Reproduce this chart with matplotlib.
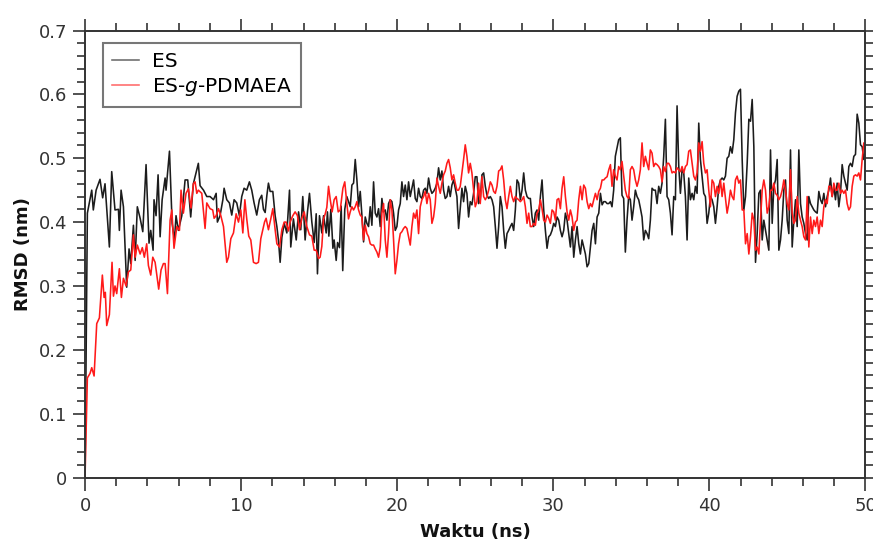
import numpy as np
import matplotlib
matplotlib.use("Agg")
import matplotlib.pyplot as plt
from matplotlib.ticker import MultipleLocator

# ---- data (time in ns, RMSD in nm) ----
# ES, 0 - 8 ns
es_t1 = [0, 0.15, 0.43, 0.53, 0.71, 0.96, 1.13, 1.28, 1.56, 1.71, 1.92, 2.14, 2.20, 2.31, 2.46,
         2.67, 2.82, 2.93, 3.10, 3.21, 3.35, 3.53, 3.70, 3.91, 4.10, 4.21, 4.36, 4.42, 4.55, 4.68,
         4.81, 4.94, 5.13, 5.19, 5.41, 5.58, 5.73, 5.83, 5.98, 6.20, 6.41, 6.58, 6.77, 6.94, 7.26,
         7.37, 7.59, 7.80]
es_v1 = [0, 0.414, 0.45, 0.419, 0.45, 0.467, 0.438, 0.46, 0.361, 0.479, 0.419, 0.42, 0.387, 0.45,
         0.424, 0.298, 0.358, 0.335, 0.395, 0.34, 0.424, 0.406, 0.385, 0.49, 0.367, 0.387, 0.356,
         0.435, 0.41, 0.474, 0.377, 0.435, 0.469, 0.45, 0.511, 0.398, 0.372, 0.41, 0.387, 0.41,
         0.466, 0.466, 0.408, 0.46, 0.492, 0.457, 0.45, 0.44]
# ES, 8 - 17 ns
es_t2 = [8.01, 8.23, 8.40, 8.48, 8.65, 8.83, 8.91, 9.08, 9.25, 9.40, 9.55, 9.72, 9.89, 10.04,
         10.19, 10.36, 10.53, 10.68, 10.83, 11.00, 11.17, 11.32, 11.43, 11.54, 11.65, 11.75,
         11.86, 12.03, 12.18, 12.29, 12.39, 12.50, 12.61, 12.76, 12.93, 13.10, 13.18, 13.35,
         13.53, 13.68, 13.82, 13.95, 14.10, 14.25, 14.38, 14.53, 14.68, 14.81, 14.89, 15.02,
         15.17, 15.28, 15.45, 15.53, 15.62, 15.75, 15.88, 15.96, 16.09, 16.18, 16.30, 16.41,
         16.51, 16.64, 16.77]
es_v2 = [0.44, 0.435, 0.445, 0.40, 0.41, 0.435, 0.453, 0.435, 0.43, 0.411, 0.435, 0.43, 0.41,
         0.44, 0.453, 0.45, 0.463, 0.45, 0.43, 0.411, 0.435, 0.442, 0.42, 0.415, 0.442, 0.461,
         0.448, 0.448, 0.41, 0.393, 0.372, 0.337, 0.376, 0.398, 0.383, 0.45, 0.361, 0.405, 0.372,
         0.416, 0.388, 0.44, 0.372, 0.416, 0.445, 0.40, 0.368, 0.413, 0.319, 0.41, 0.383, 0.41,
         0.383, 0.416, 0.378, 0.42, 0.359, 0.372, 0.34, 0.368, 0.36, 0.425, 0.324, 0.42, 0.44]
# ES, 17 - 25.3 ns (evenly sampled)
es_v3 = [0.424, 0.458, 0.461, 0.498, 0.466, 0.424, 0.448, 0.411, 0.369, 0.408, 0.398, 0.393,
         0.424, 0.395, 0.463, 0.414, 0.408, 0.421, 0.393, 0.437, 0.416, 0.419, 0.403, 0.429,
         0.435, 0.432, 0.414, 0.387, 0.393, 0.419, 0.429, 0.463, 0.44, 0.458, 0.435, 0.463, 0.44,
         0.453, 0.466, 0.437, 0.432, 0.453, 0.44, 0.437, 0.45, 0.453, 0.445, 0.469, 0.453, 0.445,
         0.448, 0.453, 0.461, 0.485, 0.466, 0.48, 0.45, 0.437, 0.44, 0.456, 0.44, 0.458, 0.466,
         0.453, 0.44, 0.39, 0.421, 0.453, 0.432, 0.456, 0.445, 0.408, 0.432, 0.427, 0.445, 0.471,
         0.471, 0.429, 0.435]
# ES, 25.4 - 33.7 ns
es_v4 = [0.474, 0.477, 0.456, 0.442, 0.437, 0.44, 0.435, 0.424, 0.393, 0.359, 0.393, 0.44,
         0.424, 0.387, 0.359, 0.382, 0.387, 0.393, 0.398, 0.387, 0.419, 0.466, 0.461, 0.435, 0.45,
         0.477, 0.45, 0.44, 0.437, 0.437, 0.408, 0.393, 0.414, 0.419, 0.403, 0.44, 0.466, 0.419,
         0.387, 0.359, 0.377, 0.38, 0.387, 0.398, 0.393, 0.408, 0.403, 0.387, 0.377, 0.387, 0.414,
         0.403, 0.382, 0.361, 0.393, 0.345, 0.372, 0.393, 0.366, 0.35, 0.372, 0.361, 0.35, 0.33,
         0.335, 0.361, 0.387, 0.398, 0.366, 0.408, 0.414, 0.445, 0.427, 0.432, 0.432, 0.429,
         0.429, 0.432]
# ES, 33.8 - 42 ns
es_v5 = [0.424, 0.45, 0.503, 0.516, 0.529, 0.532, 0.442, 0.437, 0.353, 0.403, 0.44, 0.435,
         0.403, 0.424, 0.45, 0.44, 0.435, 0.422, 0.408, 0.372, 0.387, 0.382, 0.374, 0.403, 0.453,
         0.45, 0.45, 0.429, 0.456, 0.445, 0.461, 0.503, 0.561, 0.44, 0.435, 0.414, 0.38, 0.44,
         0.435, 0.582, 0.488, 0.445, 0.482, 0.477, 0.44, 0.372, 0.469, 0.435, 0.445, 0.435, 0.456,
         0.445, 0.555, 0.498, 0.472, 0.445, 0.44, 0.398, 0.414, 0.44, 0.435, 0.424, 0.398, 0.424,
         0.456, 0.466, 0.469, 0.466, 0.472, 0.5, 0.503, 0.518, 0.508, 0.529, 0.571, 0.597, 0.605,
         0.608]
# ES, 42.1 - 50 ns
es_v6 = [0.498, 0.419, 0.44, 0.492, 0.561, 0.558, 0.592, 0.518, 0.337, 0.382, 0.445, 0.45,
         0.372, 0.403, 0.387, 0.372, 0.356, 0.513, 0.398, 0.456, 0.466, 0.498, 0.356, 0.372,
         0.403, 0.45, 0.466, 0.403, 0.382, 0.513, 0.361, 0.403, 0.435, 0.393, 0.513, 0.429, 0.408,
         0.398, 0.382, 0.372, 0.44, 0.429, 0.424, 0.419, 0.416, 0.414, 0.448, 0.435, 0.429, 0.445,
         0.424, 0.44, 0.45, 0.469, 0.44, 0.456, 0.435, 0.461, 0.424, 0.445, 0.49, 0.472, 0.461,
         0.45, 0.487, 0.492, 0.487, 0.503, 0.506, 0.569, 0.555, 0.521, 0.518, 0.498, 0.513]

# ES-g-PDMAEA, 0 - 8 ns
gp_t1 = [0, 0.15, 0.32, 0.43, 0.58, 0.75, 0.92, 1.11, 1.22, 1.30, 1.39, 1.56, 1.73, 1.82, 1.92,
         2.03, 2.20, 2.33, 2.46, 2.63, 2.78, 2.93, 3.10, 3.21, 3.35, 3.53, 3.67, 3.80, 3.95, 4.06,
         4.21, 4.34, 4.49, 4.72, 4.87, 5.02, 5.13, 5.28, 5.45, 5.56, 5.70, 5.88, 6.05, 6.15, 6.30,
         6.47, 6.62, 6.79, 6.94, 7.05, 7.16, 7.26, 7.48, 7.69, 7.80]
gp_v1 = [0, 0.156, 0.163, 0.172, 0.159, 0.241, 0.25, 0.317, 0.282, 0.29, 0.238, 0.255, 0.337,
         0.284, 0.30, 0.288, 0.327, 0.282, 0.312, 0.30, 0.322, 0.325, 0.38, 0.345, 0.364, 0.35,
         0.36, 0.345, 0.366, 0.332, 0.317, 0.345, 0.337, 0.295, 0.325, 0.335, 0.335, 0.288, 0.403,
         0.419, 0.359, 0.393, 0.387, 0.45, 0.414, 0.445, 0.452, 0.422, 0.46, 0.463, 0.445, 0.45,
         0.445, 0.39, 0.43]
# ES-g-PDMAEA, 8 - 17 ns
gp_t2 = [8.01, 8.18, 8.27, 8.40, 8.55, 8.70, 8.87, 9.08, 9.19, 9.34, 9.51, 9.68, 9.83, 9.98,
         10.11, 10.24, 10.36, 10.49, 10.62, 10.79, 10.96, 11.11, 11.26, 11.39, 11.50, 11.60,
         11.75, 11.90, 12.03, 12.18, 12.29, 12.46, 12.61, 12.76, 12.88, 13.03, 13.14, 13.31,
         13.46, 13.61, 13.74, 13.89, 14.04, 14.21, 14.38, 14.53, 14.68, 14.81, 14.96, 15.06,
         15.17, 15.28, 15.39, 15.49, 15.60, 15.71, 15.83, 15.96, 16.09, 16.22, 16.35, 16.52,
         16.64, 16.77, 16.88]
gp_v2 = [0.421, 0.419, 0.406, 0.41, 0.421, 0.41, 0.393, 0.337, 0.345, 0.374, 0.383, 0.413, 0.40,
         0.419, 0.383, 0.435, 0.405, 0.378, 0.372, 0.337, 0.335, 0.337, 0.374, 0.388, 0.40,
         0.406, 0.388, 0.405, 0.421, 0.388, 0.366, 0.361, 0.388, 0.40, 0.40, 0.386, 0.40, 0.41,
         0.416, 0.41, 0.388, 0.406, 0.416, 0.393, 0.38, 0.378, 0.356, 0.356, 0.343, 0.345, 0.362,
         0.405, 0.413, 0.423, 0.456, 0.435, 0.416, 0.435, 0.44, 0.416, 0.419, 0.453, 0.463, 0.43,
         0.405]
# ES-g-PDMAEA, 17 - 25.3 ns
gp_v3 = [0.416, 0.424, 0.419, 0.424, 0.432, 0.419, 0.411, 0.408, 0.372, 0.395, 0.382, 0.377,
         0.366, 0.364, 0.364, 0.358, 0.353, 0.345, 0.361, 0.414, 0.429, 0.372, 0.345, 0.382,
         0.435, 0.419, 0.372, 0.319, 0.34, 0.366, 0.382, 0.385, 0.39, 0.393, 0.39, 0.377, 0.364,
         0.393, 0.414, 0.406, 0.419, 0.382, 0.424, 0.435, 0.44, 0.448, 0.429, 0.445, 0.435, 0.398,
         0.408, 0.429, 0.469, 0.456, 0.445, 0.461, 0.474, 0.48, 0.492, 0.498, 0.485, 0.466, 0.474,
         0.461, 0.45, 0.45, 0.456, 0.477, 0.498, 0.521, 0.503, 0.477, 0.492, 0.477, 0.45, 0.424,
         0.432, 0.461, 0.429]
# ES-g-PDMAEA, 25.4 - 33.7 ns
gp_v4 = [0.471, 0.44, 0.435, 0.44, 0.45, 0.463, 0.458, 0.448, 0.445, 0.456, 0.48, 0.482, 0.488,
         0.466, 0.435, 0.421, 0.44, 0.456, 0.44, 0.432, 0.44, 0.437, 0.435, 0.432, 0.435, 0.44,
         0.424, 0.398, 0.414, 0.393, 0.393, 0.398, 0.395, 0.414, 0.419, 0.435, 0.421, 0.403, 0.40,
         0.411, 0.406, 0.398, 0.419, 0.416, 0.403, 0.435, 0.437, 0.421, 0.453, 0.471, 0.44, 0.416,
         0.403, 0.419, 0.408, 0.387, 0.40, 0.403, 0.435, 0.456, 0.435, 0.458, 0.453, 0.432, 0.421,
         0.429, 0.424, 0.435, 0.445, 0.435, 0.448, 0.453, 0.466, 0.466, 0.469, 0.471, 0.482, 0.49]
# ES-g-PDMAEA, 33.8 - 42 ns
gp_v5 = [0.456, 0.482, 0.472, 0.466, 0.487, 0.482, 0.495, 0.472, 0.45, 0.44, 0.437, 0.482,
         0.487, 0.482, 0.466, 0.456, 0.466, 0.482, 0.524, 0.487, 0.503, 0.492, 0.482, 0.513,
         0.508, 0.487, 0.492, 0.49, 0.487, 0.482, 0.463, 0.487, 0.479, 0.492, 0.492, 0.487, 0.477,
         0.479, 0.477, 0.485, 0.482, 0.479, 0.487, 0.477, 0.487, 0.49, 0.511, 0.513, 0.492, 0.472,
         0.466, 0.477, 0.524, 0.511, 0.526, 0.492, 0.477, 0.482, 0.45, 0.424, 0.466, 0.461, 0.44,
         0.456, 0.445, 0.466, 0.44, 0.461, 0.437, 0.414, 0.429, 0.45, 0.44, 0.435, 0.466, 0.472,
         0.461, 0.466]
# ES-g-PDMAEA, 42.1 - 50 ns
gp_v6 = [0.419, 0.419, 0.366, 0.382, 0.35, 0.377, 0.414, 0.403, 0.356, 0.361, 0.35, 0.403, 0.45,
         0.466, 0.45, 0.414, 0.424, 0.45, 0.45, 0.461, 0.445, 0.442, 0.435, 0.44, 0.45, 0.466,
         0.45, 0.429, 0.419, 0.482, 0.414, 0.398, 0.403, 0.44, 0.414, 0.403, 0.393, 0.377, 0.372,
         0.44, 0.361, 0.408, 0.382, 0.403, 0.393, 0.408, 0.382, 0.403, 0.393, 0.424, 0.435, 0.429,
         0.456, 0.456, 0.44, 0.461, 0.45, 0.45, 0.461, 0.445, 0.45, 0.445, 0.45, 0.429, 0.419,
         0.424, 0.456, 0.472, 0.474, 0.472, 0.477, 0.466, 0.498, 0.524, 0.508]

# time spans of the evenly sampled stretches
spans = [(16.99, 25.32), (25.43, 33.66), (33.76, 41.99), (42.10, 50.0)]


def build(t1, v1, t2, v2, rest):
    t = list(t1) + list(t2)
    v = list(v1) + list(v2)
    for (a, b), vals in zip(spans, rest):
        t += list(np.linspace(a, b, len(vals)))
        v += list(vals)
    return np.array(t), np.array(v)


es_t, es_v = build(es_t1, es_v1, es_t2, es_v2, [es_v3, es_v4, es_v5, es_v6])
gp_t, gp_v = build(gp_t1, gp_v1, gp_t2, gp_v2, [gp_v3, gp_v4, gp_v5, gp_v6])

plt.rcParams['font.family'] = ['DejaVu Sans']
plt.rcParams['mathtext.fontset'] = 'dejavusans'

fig = plt.figure(figsize=(8.73, 5.40), dpi=100)
ax = fig.add_axes([0.0974, 0.1157, 0.8940, 0.8278])

ax.plot(es_t, es_v, color='#1c1c1c', lw=1.15, label='ES')
ax.plot(gp_t, gp_v, color='#ff1a1a', lw=1.15, label='ES-$g$-PDMAEA')

ax.set_xlim(0, 50)
ax.set_ylim(0, 0.7)
ax.xaxis.set_major_locator(MultipleLocator(10))
ax.xaxis.set_minor_locator(MultipleLocator(2))
ax.yaxis.set_major_locator(MultipleLocator(0.1))
ax.yaxis.set_minor_locator(MultipleLocator(0.02))
ax.yaxis.set_major_formatter(matplotlib.ticker.FuncFormatter(
    lambda v, p: '0' if abs(v) < 1e-9 else f'{v:.1f}'))

ax.tick_params(which='both', direction='out', top=True, right=True,
               color='#333333', width=1.2, labelsize=13, labelcolor='#333333')
ax.tick_params(axis='x', pad=5)
ax.tick_params(axis='y', pad=4)
ax.tick_params(which='major', length=9)
ax.tick_params(which='minor', length=5.5)
for s in ax.spines.values():
    s.set_color('#333333')
    s.set_linewidth(1.4)

ax.set_xlabel('Waktu (ns)', fontsize=13, fontweight='bold', color='#111111', labelpad=5.5)
ax.set_ylabel('RMSD (nm)', fontsize=13, fontweight='bold', color='#111111', labelpad=5)

leg = ax.legend(loc='upper left', bbox_to_anchor=(0.023, 0.972), fontsize=14.5,
                frameon=True, fancybox=False, handlelength=1.35, handletextpad=0.65,
                borderpad=0.45, labelspacing=0.25, borderaxespad=0)
leg.get_frame().set_edgecolor('#555555')
leg.get_frame().set_linewidth(1.5)
for h in leg.get_lines():
    h.set_alpha(0.65)

fig.savefig('out.png', dpi=100)
